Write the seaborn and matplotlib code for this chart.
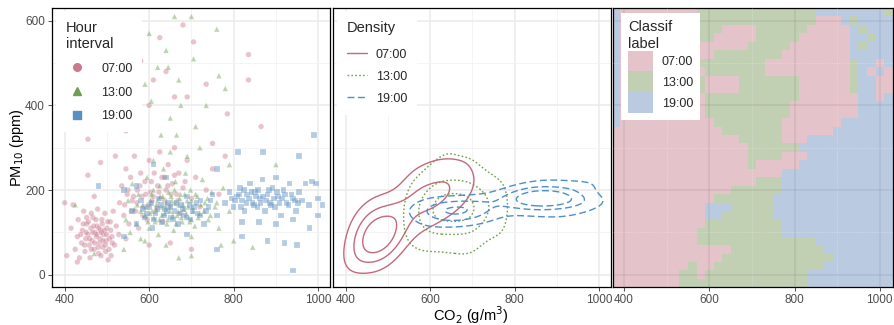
import numpy as np
import pandas as pd
import matplotlib
matplotlib.use("Agg")
import matplotlib.pyplot as plt
import seaborn as sns
from matplotlib.colors import ListedColormap
from matplotlib.lines import Line2D
from matplotlib.patches import Patch

# ---------------- data ----------------
hours = ["07:00", "13:00", "19:00"]

co2_07 = [405, 415, 420, 425, 430, 432, 435, 440, 442, 445, 448, 450, 452, 455, 458, 460, 462, 465, 467, 470,
          472, 475, 477, 480, 482, 485, 488, 490, 492, 495, 498, 500, 503, 505, 508, 512, 515, 518, 522, 528,
          400, 455, 470, 485, 430, 510,
          438, 444, 447, 451, 456, 459, 463, 466, 469, 471, 474, 476, 479, 481, 484, 487, 489, 491, 494, 496,
          499, 502, 506, 509, 513, 463, 478, 452, 486, 497,
          530, 535, 540, 545, 548, 552, 556, 560, 565, 568, 572, 575, 580, 583, 587, 590, 595, 600, 603, 607,
          612, 615, 620, 625, 628, 632, 636, 640, 645, 650, 655, 660, 665, 670, 675, 680, 690, 700, 710, 720,
          735, 750, 765, 780, 545, 600, 650, 700,
          542, 550, 558, 563, 571, 578, 585, 592, 598, 605, 610, 618, 623, 630, 637, 644, 652, 660, 668, 685,
          455, 545, 560, 580, 600, 610, 625, 640, 660, 680, 690, 705, 735, 785, 835, 835, 865, 750, 520, 575]
pm_07 = [45, 110, 165, 60, 90, 130, 40, 75, 105, 150, 55, 85, 120, 95, 70, 40, 110, 80, 135, 60,
         100, 90, 115, 50, 75, 105, 130, 65, 95, 145, 80, 110, 35, 60, 125, 90, 150, 70, 115, 95,
         170, 235, 185, 265, 30, 45,
         95, 120, 70, 100, 125, 85, 60, 100, 115, 75, 130, 95, 65, 110, 85, 100, 120, 80, 105, 70,
         95, 125, 85, 105, 75, 145, 155, 135, 45, 55,
         170, 210, 140, 250, 190, 120, 230, 175, 280, 150, 200, 110, 240, 185, 160, 220, 130, 270, 195, 175,
         240, 150, 210, 290, 180, 125, 230, 200, 260, 165, 215, 300, 190, 240, 145, 205, 270, 180, 230, 160,
         200, 250, 190, 280, 85, 70, 75, 60,
         165, 200, 150, 185, 170, 210, 140, 190, 165, 220, 185, 160, 195, 230, 175, 210, 190, 235, 175, 220,
         320, 340, 370, 505, 400, 460, 560, 480, 420, 590, 420, 550, 450, 380, 520, 460, 350, 310, 280, 470]

co2_13 = [545, 550, 555, 560, 565, 570, 575, 580, 585, 590, 595, 600, 603, 607, 610, 614, 618, 622, 626, 630,
          634, 638, 642, 646, 650, 654, 658, 662, 666, 670, 674, 678, 682, 686, 690, 694, 698, 702, 708, 714,
          720, 726, 732, 740, 748, 756, 765, 775, 790, 610, 650, 690, 720, 590, 640, 700,
          592, 597, 602, 606, 611, 616, 620, 624, 628, 632, 636, 640, 644, 648, 652, 656, 660, 664, 668, 672,
          676, 680, 684, 688, 692, 696, 700, 704, 710, 716, 722, 730, 738, 745, 760, 580, 572, 625, 660, 700,
          425, 470, 600, 605, 620, 628, 640, 645, 650, 660, 665, 670, 675, 700, 705, 710, 735, 760, 765, 780,
          790, 845, 800, 700, 670, 590, 540, 900, 770, 560]
pm_13 = [130, 175, 100, 215, 155, 120, 190, 85, 165, 140, 230, 110, 175, 150, 200, 125, 165, 95, 185, 140,
         250, 160, 120, 195, 150, 175, 105, 220, 140, 165, 190, 125, 155, 240, 175, 135, 200, 160, 115, 185,
         145, 225, 170, 130, 195, 160, 110, 205, 150, 270, 290, 280, 300, 80, 70, 90,
         160, 125, 145, 190, 135, 155, 175, 130, 160, 185, 145, 170, 130, 160, 185, 140, 170, 120, 150, 180,
         135, 165, 190, 145, 160, 125, 175, 150, 190, 135, 165, 150, 180, 140, 170, 150, 165, 210, 200, 130,
         165, 50, 570, 410, 490, 330, 530, 490, 370, 610, 330, 460, 400, 610, 510, 350, 400, 580, 470, 440,
         260, 65, 80, 45, 40, 450, 60, 260, 70, 380]

co2_19 = [560, 570, 580, 590, 600, 608, 615, 622, 630, 638, 645, 652, 660, 668, 675, 682, 690, 698, 706, 714,
          722, 730, 740, 750, 760, 570, 640, 540, 690, 610,
          585, 595, 605, 612, 620, 628, 635, 642, 650, 657, 665, 672, 680, 688, 695, 703, 712, 720, 735, 745,
          780, 790, 800, 808, 815, 820, 826, 832, 838, 845, 850, 856, 862, 868, 874, 880, 886, 892, 898, 905,
          912, 918, 925, 932, 940, 948, 955, 962, 970, 978, 985, 995, 1000, 820, 860, 900, 940,
          795, 803, 812, 818, 824, 830, 836, 842, 848, 853, 858, 864, 870, 877, 883, 889, 895, 902, 908, 915,
          922, 930, 937, 945, 952,
          990, 955, 810, 760, 1000, 1010, 950, 940, 920, 880, 820, 980, 900, 870, 760, 540, 480]
pm_19 = [150, 120, 175, 135, 160, 110, 145, 180, 125, 155, 170, 135, 150, 120, 165, 140, 185, 130, 160, 145,
         175, 120, 160, 190, 140, 210, 230, 200, 95, 260,
         155, 145, 170, 130, 155, 165, 140, 150, 160, 130, 170, 145, 155, 135, 165, 150, 170, 140, 150, 175,
         170, 195, 160, 185, 205, 175, 150, 190, 215, 170, 195, 160, 180, 225, 150, 190, 170, 205, 160, 185,
         140, 200, 170, 215, 180, 150, 195, 175, 215, 165, 220, 215, 180, 125, 125, 120, 130,
         180, 175, 190, 160, 200, 170, 180, 195, 165, 185, 200, 170, 185, 175, 200, 165, 180, 195, 170, 180,
         190, 165, 190, 175, 170,
         330, 280, 290, 250, 140, 165, 70, 10, 75, 80, 90, 110, 230, 290, 60, 90, 210]

# classifier label map, rows from top (PM10 ~ 620) to bottom (PM10 ~ -20), 33 columns (CO2 380 .. 1020)
class_rows = [
    "B" + "P" * 9 + "G" * 14 + "B" * 8 + "G",
    "B" + "P" * 9 + "G" * 14 + "PPP" + "BGBBBB",
    "B" + "P" * 9 + "GGG" + "PPPP" + "GGGGGG" + "PPPPP" + "BGBBB",
    "B" + "P" * 9 + "GG" + "PPPPP" + "GGGGG" + "PPPPPP" + "BBGBB",
    "B" + "P" * 9 + "PPPPPP" + "GGGGG" + "PPPPPPP" + "BGBBB",
    "B" + "P" * 9 + "PP" + "GGGGGGGG" + "PPPPPPPP" + "BBBBB",
    "B" + "P" * 9 + "GGGGGGGG" + "PPPPPPPPPP" + "G" + "BBPB",
    "B" + "P" * 9 + "P" + "GGGGGGG" + "PPPPPPPPPP" + "G" + "BPBP",
    "B" + "P" * 9 + "G" + "PPPP" + "GGGGGGG" + "PPPPPP" + "G" + "BBPP",
    "B" + "P" * 9 + "G" + "PPPP" + "GGGGGGG" + "PPPPPP" + "G" + "BBPP",
    "B" + "P" * 9 + "P" + "G" * 11 + "P" * 7 + "BBPB",
    "B" + "P" * 9 + "P" + "G" * 10 + "P" * 8 + "BBBB",
    "B" + "P" * 9 + "P" + "G" * 10 + "P" * 8 + "BBBB",
    "B" + "P" * 9 + "PP" + "G" * 8 + "P" * 7 + "B" * 6,
    "P" * 10 + "PPP" + "G" * 7 + "P" * 6 + "B" * 7,
    "P" * 15 + "G" * 5 + "PPP" + "B" * 10,
    "P" * 16 + "G" * 6 + "B" * 11,
    "P" * 16 + "GGGG" + "PPP" + "B" * 10,
    "P" * 16 + "G" + "PPPPP" + "B" * 11,
    "P" * 20 + "B" * 13,
    "P" * 17 + "GGG" + "B" * 13,
    "P" * 14 + "G" * 6 + "B" * 13,
    "P" * 12 + "G" * 7 + "B" * 14,
    "P" * 11 + "BBB" + "G" * 5 + "B" * 14,
    "P" * 11 + "BB" + "G" * 6 + "B" * 14,
    "P" * 11 + "G" * 9 + "B" * 13,
    "P" * 10 + "G" * 10 + "B" * 13,
    "P" * 10 + "G" * 14 + "B" * 9,
    "P" * 14 + "G" * 11 + "B" * 8,
    "P" * 13 + "G" * 13 + "B" * 7,
    "P" * 9 + "G" + "PP" + "G" * 13 + "B" * 8,
    "P" * 8 + "GG" + "P" + "G" * 12 + "B" * 10,
    "P" * 8 + "G" * 15 + "B" * 10,
]

x_ticks = [400, 600, 800, 1000]
y_ticks = [0, 200, 400, 600]

# ---------------- style ----------------
sns.set_theme(style="white")
plt.rcParams["font.family"] = ["Liberation Sans", "DejaVu Sans"]

pt_colors = {"07:00": "#CC7A8F", "13:00": "#6E9E52", "19:00": "#5A8FC3"}
line_colors = {"07:00": "#C4687C", "13:00": "#6FA048", "19:00": "#4D8FCB"}
tile_colors = ["#E5C3CA", "#C1CFB3", "#BACBE1"]
markers = {"07:00": "o", "13:00": "^", "19:00": "s"}
lstyles = {"07:00": "-", "13:00": (0, (1.2, 1.6)), "19:00": (0, (5, 2.5))}

df = pd.concat([
    pd.DataFrame({"CO2": co2_07, "PM10": pm_07, "Hour": "07:00"}),
    pd.DataFrame({"CO2": co2_13, "PM10": pm_13, "Hour": "13:00"}),
    pd.DataFrame({"CO2": co2_19, "PM10": pm_19, "Hour": "19:00"}),
], ignore_index=True)

W, H = 895, 325
fig = plt.figure(figsize=(W / 100, H / 100), dpi=100)
ax1 = fig.add_axes([52 / W, 38 / H, 278 / W, 279 / H])
ax2 = fig.add_axes([333 / W, 38 / H, 278 / W, 279 / H])
ax3 = fig.add_axes([613 / W, 38 / H, 280 / W, 279 / H])

for ax in (ax1, ax2, ax3):
    ax.set_facecolor("white")
    ax.set_xticks(x_ticks)
    ax.set_xticks([500, 700, 900], minor=True)
    ax.set_yticks(y_ticks)
    ax.set_yticks([100, 300, 500], minor=True)
    for s in ax.spines.values():
        s.set_color("black")
        s.set_linewidth(0.9)
    ax.tick_params(axis="both", which="major", length=3, width=0.6, color="#333333",
                   labelcolor="#4D4D4D", labelsize=8.5, pad=2, bottom=True, left=True)
    ax.tick_params(which="minor", length=0)

for ax in (ax1, ax2):
    ax.grid(True, which="major", color="#EBEBEB", lw=1.1)
    ax.grid(True, which="minor", color="#F2F2F2", lw=0.6)

# ---- panel 1: scatter ----
sns.scatterplot(data=df, x="CO2", y="PM10", hue="Hour", style="Hour",
                palette=pt_colors, markers=markers, s=16, alpha=0.45,
                edgecolor="white", linewidth=0.3, legend=False, ax=ax1)
ax1.set_xlabel("")
ax1.set_ylabel("")
h1 = [Line2D([], [], ls="none", marker=markers[h], color=pt_colors[h], markersize=5.5) for h in hours]
leg1 = ax1.legend(h1, hours, title="Hour\ninterval", loc="upper left", bbox_to_anchor=(0.01, 0.995),
                  frameon=True, framealpha=1,
                  facecolor="white", edgecolor="none", fancybox=False, fontsize=9, title_fontsize=10.5,
                  alignment="left", borderpad=0.8, labelspacing=0.95, handletextpad=1.0,
                  borderaxespad=0.1, handlelength=1.8)

# ---- panel 2: density contours ----
for h in hours:
    sub = df[df["Hour"] == h]
    sns.kdeplot(x=sub["CO2"], y=sub["PM10"], levels=[0.33, 0.6, 0.85], bw_adjust=0.75,
                color=line_colors[h], linewidths=1.0, linestyles=[lstyles[h]], ax=ax2)
ax2.set_xlabel("")
ax2.set_ylabel("")
h2 = [Line2D([], [], color=line_colors[h], lw=1.0, ls=lstyles[h]) for h in hours]
leg2 = ax2.legend(h2, hours, title="Density", loc="upper left", bbox_to_anchor=(0.01, 0.995),
                  frameon=True, framealpha=1,
                  facecolor="white", edgecolor="none", fancybox=False, fontsize=9, title_fontsize=10.5,
                  alignment="left", borderpad=0.8, labelspacing=0.8, handletextpad=0.7,
                  borderaxespad=0.1, handlelength=1.6)
leg2._legend_box.sep = 10

# ---- panel 3: classification map ----
code = {"P": 0, "G": 1, "B": 2}
Z = np.array([[code[c] for c in row] for row in class_rows[::-1]])
xe = np.arange(370, 1031, 20)
ye = np.arange(-30, 631, 20)
ax3.pcolormesh(xe, ye, Z, cmap=ListedColormap(tile_colors), vmin=-0.5, vmax=2.5,
               shading="flat", zorder=0.5, rasterized=True)
ax3.set_axisbelow(False)
ax3.grid(True, which="major", color="#000000", alpha=0.07, lw=1.1)
ax3.grid(True, which="minor", color="#FFFFFF", alpha=0.4, lw=0.6, ls=":")
h3 = [Patch(facecolor=c, edgecolor="none") for c in tile_colors]
leg3 = ax3.legend(h3, hours, title="Classif\nlabel", loc="upper left", bbox_to_anchor=(0.025, 0.985),
                  frameon=True, framealpha=1,
                  facecolor="white", edgecolor="none", fancybox=False, fontsize=9, title_fontsize=10.5,
                  alignment="left", borderpad=0.55, labelspacing=0.0, handletextpad=0.7,
                  borderaxespad=0.1, handlelength=2.0, handleheight=2.2)

ax1.set_xlim(370, 1028)
ax2.set_xlim(370, 1028)
ax3.set_xlim(374, 1031)
for ax in (ax1, ax2, ax3):
    ax.set_ylim(-29, 630)
ax2.tick_params(axis="y", labelleft=False, length=0)
ax3.tick_params(axis="y", labelleft=False, length=0)

# ---- axis titles ----
fig.text(471 / W, 1 - 315 / H, "CO$_2$ (g/m$^3$)", ha="center", va="center", fontsize=10.5, color="black")
fig.text(17 / W, 1 - 148 / H, "PM$_{10}$ (ppm)", ha="center", va="center", rotation=90,
         fontsize=10.5, color="black")

fig.savefig("out.png", dpi=100)
